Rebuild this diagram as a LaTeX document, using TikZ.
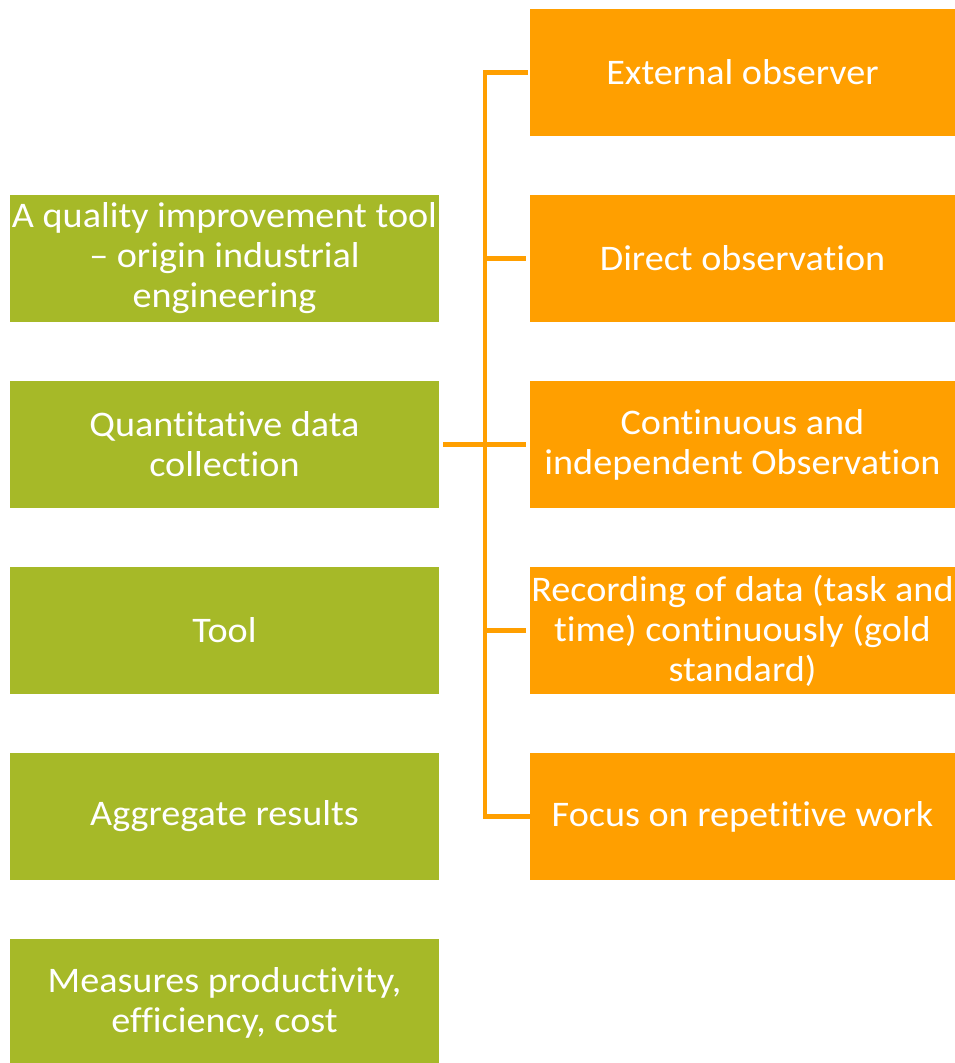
\documentclass[tikz,border=0pt]{standalone}
\usepackage{fontspec}
\setmainfont[Ligatures=NoCommon, FakeStretch=1.06]{Carlito}
\usetikzlibrary{calc}
\definecolor{leaf}{RGB}{166,185,40}
\definecolor{amber}{RGB}{255,159,0}
\begin{document}
\begin{tikzpicture}[x=1pt,y=-1pt,
  box/.style={minimum height=127pt, inner sep=0pt, align=center,
    text=white, font=\fontsize{36}{40}\selectfont},
  leftbox/.style={box, fill=leaf, minimum width=429pt},
  rightbox/.style={box, fill=amber, minimum width=425pt},
  conn/.style={draw=amber, line width=4.5pt}]
\useasboundingbox (0,0) rectangle (955,1063);
\begin{scope}
\clip (0,0) rectangle (955,1063);
% left column
\node[leftbox] (g1) at (224.5,258.5) {A quality improvement tool\\– origin industrial\\engineering};
\node[leftbox] (g2) at (224.5,444.5) {Quantitative data\\collection};
\node[leftbox] (g3) at (224.5,630.5) {Tool};
\node[leftbox] (g4) at (224.5,816.5) {Aggregate results};
\node[leftbox] (g5) at (224.5,1002.5) {Measures productivity,\\efficiency, cost};
% right column
\node[rightbox] (o1) at (742.5,72.5) {External observer};
\node[rightbox] (o2) at (742.5,258.5) {Direct observation};
\node[rightbox] (o3) at (742.5,444.5) {Continuous and\\independent Observation};
\node[rightbox] (o4) at (742.5,630.5) {Recording of data (task and\\time) continuously (gold\\standard)};
\node[rightbox] (o5) at (742.5,816.5) {Focus on repetitive work};
\end{scope}
% bracket connector
\coordinate (t1) at ($(o1.west)+(-45,0)$);
\coordinate (t5) at ($(o5.west)+(-45,0)$);
\draw[conn, shorten <=4pt, line cap=rect] (o1.west) -- (t1) -- (t5) -- (o5.west);
\draw[conn, shorten >=4pt] (t1) -- (o1.west);
\draw[conn, shorten >=4pt] (t5) -- (o5.west);
\foreach \n in {o2,o4}
  \draw[conn, shorten >=4pt] (t1 |- \n.west) -- (\n.west);
\draw[conn, shorten <=4pt, shorten >=4pt] (g2.east) -- (o3.west);
\end{tikzpicture}
\end{document}
